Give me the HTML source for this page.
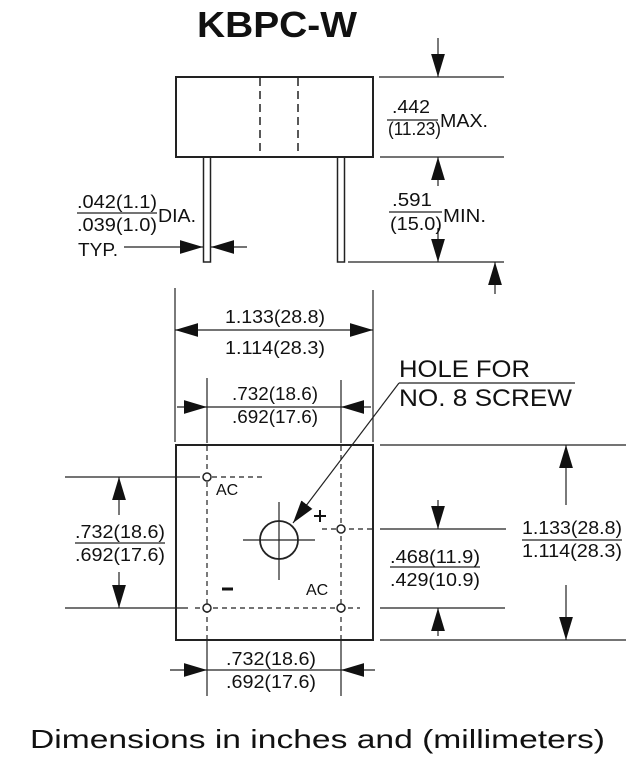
<!DOCTYPE html>
<html><head><meta charset="utf-8"><style>
html,body{margin:0;padding:0;background:#fff;}
svg{display:block;}
text{font-family:"Liberation Sans",Arial,sans-serif;fill:#111;}
</style></head><body>
<svg width="636" height="758" viewBox="0 0 636 758" xmlns="http://www.w3.org/2000/svg">
<defs>
<marker id="a" viewBox="0 0 10 10" refX="10" refY="5" markerWidth="23" markerHeight="23" markerUnits="userSpaceOnUse" orient="auto"><path d="M0,2 L10,5 L0,8 z" fill="#111"/></marker>
</defs>
<g stroke="#222" fill="none" stroke-width="1.2">
<rect x="176" y="77" width="197" height="80" stroke-width="2"/>
<line x1="260" y1="78" x2="260" y2="156" stroke-dasharray="8,5" stroke-width="1.5"/>
<line x1="298" y1="78" x2="298" y2="156" stroke-dasharray="8,5" stroke-width="1.5"/>
<rect x="203.5" y="157" width="7" height="105" stroke-width="1.5"/>
<rect x="337.5" y="157" width="7" height="105" stroke-width="1.5"/>
<line x1="379" y1="77" x2="504" y2="77"/>
<line x1="380" y1="157" x2="504" y2="157"/>
<line x1="348" y1="262" x2="504" y2="262"/>
<line x1="438" y1="38" x2="438" y2="77" marker-end="url(#a)"/>
<line x1="438" y1="186" x2="438" y2="157" marker-end="url(#a)"/>
<line x1="438" y1="228" x2="438" y2="262" marker-end="url(#a)"/>
<line x1="495" y1="294" x2="495" y2="262" marker-end="url(#a)"/>
<line x1="387" y1="120" x2="438" y2="120"/>
<line x1="389" y1="212" x2="442" y2="212"/>
<line x1="77" y1="213" x2="157" y2="213"/>
<line x1="124" y1="247" x2="203" y2="247" marker-end="url(#a)"/>
<line x1="247" y1="247" x2="211" y2="247" marker-end="url(#a)"/>
<line x1="175" y1="288" x2="175" y2="442"/>
<line x1="373" y1="290" x2="373" y2="442"/>
<line x1="274" y1="330" x2="175" y2="330" marker-end="url(#a)"/>
<line x1="274" y1="330" x2="373" y2="330" marker-end="url(#a)"/>
<line x1="207" y1="378" x2="207" y2="443"/>
<line x1="341" y1="380" x2="341" y2="443"/>
<line x1="177" y1="407" x2="207" y2="407" marker-end="url(#a)"/>
<line x1="207" y1="407" x2="341" y2="407"/>
<line x1="371" y1="407" x2="341" y2="407" marker-end="url(#a)"/>
<line x1="399" y1="383" x2="575" y2="383"/>
<line x1="399" y1="383" x2="293" y2="523" marker-end="url(#a)"/>
<rect x="176" y="445" width="197" height="195" stroke-width="2"/>
<line x1="207" y1="446" x2="207" y2="639" stroke-dasharray="5,4"/>
<line x1="341" y1="446" x2="341" y2="639" stroke-dasharray="5,4"/>
<line x1="207" y1="640" x2="207" y2="696"/>
<line x1="341" y1="640" x2="341" y2="696"/>
<line x1="65" y1="477" x2="200" y2="477"/>
<line x1="212" y1="477" x2="262" y2="477" stroke-dasharray="5,4"/>
<line x1="65" y1="608" x2="188" y2="608"/>
<line x1="195" y1="608" x2="360" y2="608" stroke-dasharray="5,4"/>
<line x1="322" y1="529" x2="372" y2="529" stroke-dasharray="5,4"/>
<circle cx="207" cy="477" r="4" fill="#fff" stroke-width="1.5"/>
<circle cx="341" cy="529" r="4" fill="#fff" stroke-width="1.5"/>
<circle cx="207" cy="608" r="4" fill="#fff" stroke-width="1.5"/>
<circle cx="341" cy="608" r="4" fill="#fff" stroke-width="1.5"/>
<circle cx="279" cy="540" r="19" stroke-width="1.8"/>
<line x1="243" y1="540" x2="315" y2="540"/>
<line x1="279" y1="502" x2="279" y2="580"/>
<line x1="119" y1="515" x2="119" y2="477" marker-end="url(#a)"/>
<line x1="119" y1="572" x2="119" y2="608" marker-end="url(#a)"/>
<line x1="75" y1="543" x2="165" y2="543"/>
<line x1="380" y1="445" x2="626" y2="445"/>
<line x1="380" y1="640" x2="626" y2="640"/>
<line x1="380" y1="529" x2="506" y2="529"/>
<line x1="380" y1="608" x2="505" y2="608"/>
<line x1="438" y1="500" x2="438" y2="529" marker-end="url(#a)"/>
<line x1="438" y1="636" x2="438" y2="608" marker-end="url(#a)"/>
<line x1="566" y1="505" x2="566" y2="445" marker-end="url(#a)"/>
<line x1="566" y1="585" x2="566" y2="640" marker-end="url(#a)"/>
<line x1="522" y1="540" x2="622" y2="540"/>
<line x1="390" y1="567" x2="480" y2="567"/>
<line x1="170" y1="670" x2="207" y2="670" marker-end="url(#a)"/>
<line x1="207" y1="670" x2="341" y2="670"/>
<line x1="375" y1="670" x2="341" y2="670" marker-end="url(#a)"/>
</g>
<line x1="314" y1="516" x2="326" y2="516" stroke="#111" stroke-width="2"/>
<line x1="320" y1="510" x2="320" y2="522" stroke="#111" stroke-width="2"/>
<line x1="222" y1="589" x2="233" y2="589" stroke="#111" stroke-width="3"/>
<g font-size="18">
<text x="197" y="37" font-size="36" font-weight="bold" textLength="160" lengthAdjust="spacingAndGlyphs">KBPC-W</text>
<text x="392" y="113" textLength="38" lengthAdjust="spacingAndGlyphs">.442</text>
<text x="388" y="135" textLength="53" lengthAdjust="spacingAndGlyphs">(11.23)</text>
<text x="440" y="127" textLength="48" lengthAdjust="spacingAndGlyphs">MAX.</text>
<text x="392" y="206" textLength="40" lengthAdjust="spacingAndGlyphs">.591</text>
<text x="390" y="230" textLength="52" lengthAdjust="spacingAndGlyphs">(15.0)</text>
<text x="443" y="222" textLength="43" lengthAdjust="spacingAndGlyphs">MIN.</text>
<text x="77" y="208" textLength="80" lengthAdjust="spacingAndGlyphs">.042(1.1)</text>
<text x="77" y="231" textLength="80" lengthAdjust="spacingAndGlyphs">.039(1.0)</text>
<text x="158" y="222" textLength="38" lengthAdjust="spacingAndGlyphs">DIA.</text>
<text x="78" y="256" textLength="40" lengthAdjust="spacingAndGlyphs">TYP.</text>
<text x="225" y="323" textLength="100" lengthAdjust="spacingAndGlyphs">1.133(28.8)</text>
<text x="225" y="354" textLength="100" lengthAdjust="spacingAndGlyphs">1.114(28.3)</text>
<text x="232" y="400" textLength="86" lengthAdjust="spacingAndGlyphs">.732(18.6)</text>
<text x="232" y="423" textLength="86" lengthAdjust="spacingAndGlyphs">.692(17.6)</text>
<text x="399" y="377" font-size="24" textLength="131" lengthAdjust="spacingAndGlyphs">HOLE FOR</text>
<text x="399" y="406" font-size="24" textLength="173" lengthAdjust="spacingAndGlyphs">NO. 8 SCREW</text>
<text x="216" y="495" font-size="16">AC</text>
<text x="306" y="595" font-size="16">AC</text>
<text x="75" y="538" textLength="90" lengthAdjust="spacingAndGlyphs">.732(18.6)</text>
<text x="75" y="561" textLength="90" lengthAdjust="spacingAndGlyphs">.692(17.6)</text>
<text x="522" y="534" textLength="100" lengthAdjust="spacingAndGlyphs">1.133(28.8)</text>
<text x="522" y="557" textLength="100" lengthAdjust="spacingAndGlyphs">1.114(28.3)</text>
<text x="390" y="563" textLength="90" lengthAdjust="spacingAndGlyphs">.468(11.9)</text>
<text x="390" y="586" textLength="90" lengthAdjust="spacingAndGlyphs">.429(10.9)</text>
<text x="226" y="665" textLength="90" lengthAdjust="spacingAndGlyphs">.732(18.6)</text>
<text x="226" y="688" textLength="90" lengthAdjust="spacingAndGlyphs">.692(17.6)</text>
<text x="30" y="748" font-size="26" textLength="575" lengthAdjust="spacingAndGlyphs">Dimensions in inches and (millimeters)</text>
</g>
</svg>
</body></html>
